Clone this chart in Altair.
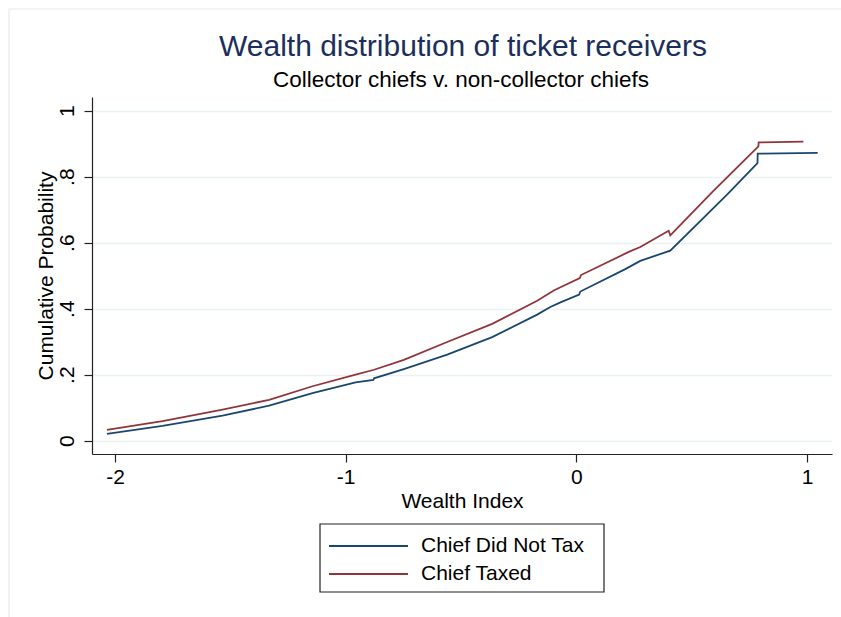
import altair as alt
import pandas as pd

# Empirical CDF of the wealth index, by whether the chief collected tax
series_names = ["Chief Did Not Tax", "Chief Taxed"]
series_colors = ["#1a476f", "#90353b"]

no_tax_x = [-2.035, -1.794, -1.534, -1.332, -1.144, -0.957, -0.880, -0.877, -0.748,
            -0.560, -0.365, -0.170, -0.113, -0.069, 0.012, 0.017, 0.212, 0.277,
            0.407, 0.652, 0.785, 0.786, 1.046]
no_tax_y = [0.021, 0.045, 0.076, 0.106, 0.144, 0.177, 0.184, 0.189, 0.217,
            0.261, 0.314, 0.382, 0.405, 0.419, 0.443, 0.452, 0.520, 0.545,
            0.576, 0.745, 0.841, 0.870, 0.872]

taxed_x = [-2.035, -1.794, -1.534, -1.332, -1.144, -0.957, -0.877, -0.748, -0.560,
           -0.365, -0.170, -0.098, -0.069, 0.015, 0.020, 0.227, 0.277, 0.400,
           0.407, 0.594, 0.789, 0.790, 0.984]
taxed_y = [0.033, 0.059, 0.094, 0.124, 0.165, 0.200, 0.215, 0.245, 0.299,
           0.354, 0.424, 0.455, 0.465, 0.493, 0.502, 0.572, 0.587, 0.636,
           0.622, 0.757, 0.892, 0.904, 0.906]

x_ticks = [-2, -1, 0, 1]
y_ticks = [0, 0.2, 0.4, 0.6, 0.8, 1]

title_text = "Wealth distribution of ticket receivers"
subtitle_text = "Collector chiefs v. non-collector chiefs"

rows = []
for name, xs, ys in [(series_names[0], no_tax_x, no_tax_y),
                     (series_names[1], taxed_x, taxed_y)]:
    for i, (xv, yv) in enumerate(zip(xs, ys)):
        rows.append({"series": name, "order": i, "wealth": xv, "cdf": yv})
df = pd.DataFrame(rows)
legend_df = pd.DataFrame({"series": series_names})
one = pd.DataFrame({"k": [0]})

FONT = "Liberation Sans"
W, H = 740, 357
PAD_L, PAD_T = 92, 97

color_scale = alt.Scale(domain=series_names, range=series_colors)

lines = alt.Chart(df).mark_line(strokeWidth=1.8).encode(
    x=alt.X("wealth:Q",
            scale=alt.Scale(domain=[-2.0997, 1.108], nice=False, zero=False),
            axis=alt.Axis(values=x_ticks, title="Wealth Index",
                          labelExpr="toString(datum.value)",
                          grid=False, tickSize=8, labelPadding=4,
                          titlePadding=3)),
    y=alt.Y("cdf:Q",
            scale=alt.Scale(domain=[-0.0403, 1.0415], nice=False, zero=False),
            axis=alt.Axis(values=y_ticks, title="Cumulative Probability",
                          labelExpr="datum.value == 0 ? '0' : datum.value == 1 ? '1' : replace(format(datum.value, '.1f'), '0.', '.')",
                          labelAngle=270, labelAlign="center",
                          labelBaseline="bottom", grid=True, tickSize=8,
                          labelPadding=7, titlePadding=0)),
    color=alt.Color("series:N", scale=color_scale, legend=None),
    order="order:Q",
)

# light outer frame of the graph region
frame = alt.Chart(one).mark_rect(
    fill=None, stroke="#e4ecee", strokeWidth=1.2
).encode(
    x=alt.value(9 - PAD_L), x2=alt.value(860 - PAD_L),
    y=alt.value(9 - PAD_T), y2=alt.value(640 - PAD_T),
)

# title and subtitle centred over the plot area
title = alt.Chart(one).mark_text(
    text=title_text, font=FONT, fontSize=30, color="#1c2f5c",
    align="center", baseline="alphabetic"
).encode(x=alt.value(W / 2 + 1), y=alt.value(56 - PAD_T))
subtitle = alt.Chart(one).mark_text(
    text=subtitle_text, font=FONT, fontSize=22.5, color="black",
    align="center", baseline="alphabetic"
).encode(x=alt.value(W / 2 - 1), y=alt.value(87 - PAD_T))

# legend box below the x-axis title
LEG_X, LEG_Y, LEG_W, LEG_H = 228, 427, 284, 68
ROW0, ROW_STEP = 449, 28
legend_box = alt.Chart(one).mark_rect(
    fill="white", stroke="#222222", strokeWidth=1.2
).encode(
    x=alt.value(LEG_X), x2=alt.value(LEG_X + LEG_W),
    y=alt.value(LEG_Y), y2=alt.value(LEG_Y + LEG_H),
)

legend_layers = [legend_box]
for i, name in enumerate(series_names):
    base = alt.Chart(legend_df).transform_filter(alt.datum.series == name)
    legend_layers.append(
        base.mark_rule(strokeWidth=1.8).encode(
            x=alt.value(LEG_X + 9), x2=alt.value(LEG_X + 88),
            y=alt.value(ROW0 + ROW_STEP * i),
            color=alt.Color("series:N", scale=color_scale, legend=None),
        )
    )
    legend_layers.append(
        base.mark_text(align="left", baseline="middle", font=FONT,
                       fontSize=21, color="black").encode(
            x=alt.value(LEG_X + 101), y=alt.value(ROW0 + ROW_STEP * i),
            text="series:N",
        )
    )

chart = alt.layer(frame, title, subtitle, lines, *legend_layers).properties(
    width=W, height=H,
    background="white",
    padding={"left": PAD_L, "top": PAD_T, "right": 841 - PAD_L - W,
             "bottom": 617 - PAD_T - H},
    autosize=alt.AutoSizeParams(type="none"),
).configure_view(stroke=None).configure_axis(
    labelFont=FONT, titleFont=FONT, labelFontSize=21, titleFontSize=21,
    titleFontWeight="normal", labelColor="black", titleColor="black",
    domainColor="#222222", tickColor="#222222", domainWidth=1.2,
    tickWidth=1.2, gridColor="#eaf1f3", gridWidth=1.5,
)

chart.save("out.html", embed_options={"renderer": "svg", "actions": False})
